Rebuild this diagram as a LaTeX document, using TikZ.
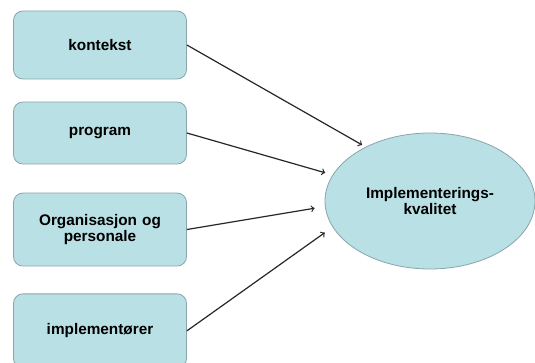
\documentclass[tikz,border=0pt]{standalone}
\usepackage{fontspec}
\setmainfont{Liberation Sans}
\usepackage{xcolor}
\usepackage{tikz}
\usetikzlibrary{shapes.geometric, arrows, positioning}
\definecolor{boxfill}{RGB}{185,224,228}
\definecolor{boxline}{RGB}{135,165,170}
\tikzstyle{BOX}   = [draw=boxline,     % color for LINES
                     line width=0.6pt, % control line width.
                     fill=boxfill,     % Fill-in the box.
                     text centered,
                     rectangle,        % Box shape
                     rounded corners=7pt,
                     minimum width=129.75pt,
                     text width=120pt,
                     font=\fontsize{11.5}{12.5}\selectfont\bfseries]
\tikzstyle{OVAL}  = [draw=boxline,
                     line width=0.6pt,
                     fill=boxfill,
                     ellipse,          % needs shapes.geometric
                     inner sep=0pt,
                     align=center,
                     minimum width=157.5pt,
                     minimum height=102pt,
                     font=\fontsize{11.5}{12.5}\selectfont\bfseries]
\tikzstyle{ARROW} = [line width=0.9pt, black!85, ->, >=to]
\begin{document}
\begin{tikzpicture}[x=0.75pt, y=-0.75pt]

		% Frame of the picture
		\useasboundingbox (0,0) rectangle (535,363);

		% Input factors
		\node(kontekst)[BOX, minimum height=51pt] at (100,45)
		{
			kontekst
		};
		\node(program)[BOX, below of = kontekst, node distance = 66pt, minimum height=46.5pt]
		{
			program
		};
		\node(org)[BOX, below of = program, node distance = 72.4pt, minimum height=54.75pt]
		{
			Organisasjon og\\
			personale
		};
		\node(impl)[BOX, below of = org, node distance = 76pt, minimum height=55.5pt]
		{
			implementører
		};



		% The outcome
		\node(kvalitet)[OVAL] at (430,201)
		{
			Implementerings-\\
			kvalitet
		};



		% Arrows from factors to outcome
		\draw[ARROW, shorten >=3pt] (kontekst.east) -- (kvalitet.140.5);
		\draw[ARROW, shorten >=5.8pt] (program.east) -- (kvalitet.165.6);
		\draw[ARROW, shorten >=7.9pt] (org.east) -- (kvalitet.183.5);
		\draw[ARROW, shorten >=7.2pt] (impl.east) -- (kvalitet.195.3);

\end{tikzpicture}
\end{document}
